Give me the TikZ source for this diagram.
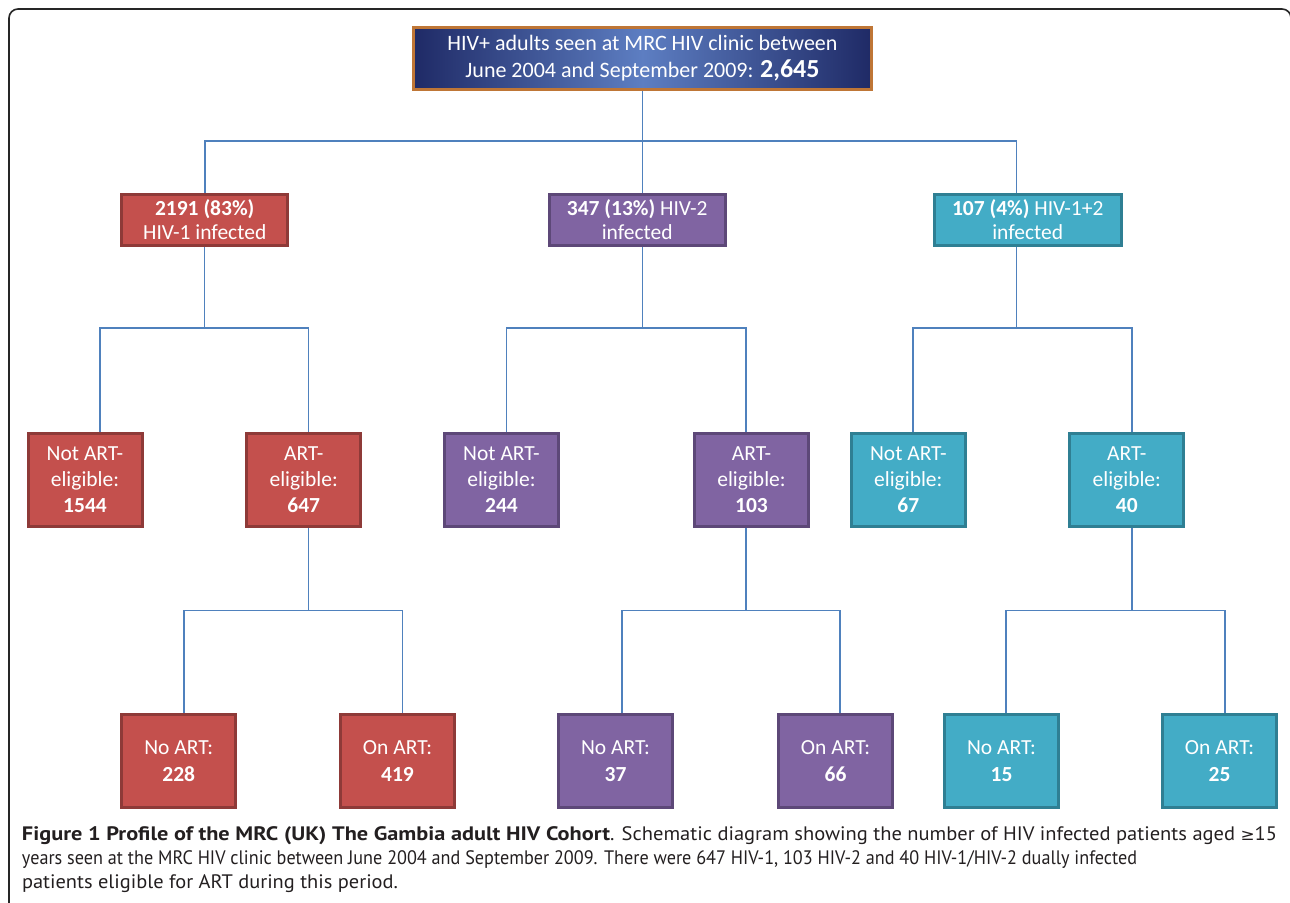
\documentclass[tikz,border=0pt]{standalone}
\usepackage{fontspec}
\usepackage{graphicx}
\setmainfont{Carlito}
\newfontfamily\capfont{PT Sans}
\newfontfamily\symfont{DejaVu Sans}
\usetikzlibrary{backgrounds}
\definecolor{redfill}{HTML}{C4504D}
\definecolor{redline}{HTML}{8E3A38}
\definecolor{purfill}{HTML}{8064A2}
\definecolor{purline}{HTML}{5D4878}
\definecolor{cyanfill}{HTML}{43ACC6}
\definecolor{cyanline}{HTML}{2F7F93}
\definecolor{navy}{HTML}{1F2A66}
\definecolor{lightnavy}{HTML}{5D7EC2}
\definecolor{topline}{HTML}{BF7636}
\definecolor{connc}{HTML}{4F81BD}
\definecolor{captext}{HTML}{231F20}
\begin{document}
\begin{tikzpicture}[x=1pt,y=-1pt,
  box/.style={draw, line width=3pt, inner sep=0pt, outer sep=0pt, align=center, text=white,
    font=\fontsize{21.5}{26}\selectfont},
  redbox/.style={box, fill=redfill, draw=redline},
  purbox/.style={box, fill=purfill, draw=purline},
  cyanbox/.style={box, fill=cyanfill, draw=cyanline},
  lvltwo/.style={minimum height=51pt, font=\fontsize{21.5}{24.5}\selectfont},
  lvlthree/.style={minimum width=114pt, minimum height=92.5pt},
  lvlfour/.style={lvlthree, font=\fontsize{21.5}{27}\selectfont},
  topbox/.style={draw=topline, line width=3pt, left color=navy, right color=navy, middle color=lightnavy,
    inner sep=0pt, outer sep=0pt, align=center, text=white, minimum width=458pt, minimum height=62pt,
    font=\fontsize{22}{27}\selectfont},
  conn/.style={draw=connc, line width=1.3pt},
  captxt/.style={anchor=base west, inner sep=0pt, outer sep=0pt, text=captext,
    font=\capfont\fontsize{19.5}{24}\selectfont}
]
\useasboundingbox (0,0) rectangle (1290,902);
% frame
\draw[line width=1.6pt, draw=black!85, rounded corners=9pt] (9,905) -- (9,9) -- (1291,9) -- (1291,30);

% top
\node[topbox] (top) at (642.5,58.5) {HIV+ adults seen at MRC HIV clinic between\\June 2004 and September 2009: {\fontsize{26}{27}\selectfont\bfseries 2,645}};

% level 2
\node[redbox, lvltwo, minimum width=166pt] (r2) at (204.7,219.5) {\textbf{2191 (83\%)}\\HIV-1 infected};
\node[purbox, lvltwo, minimum width=176pt] (p2) at (637.2,219.5) {\textbf{347 (13\%)} HIV-2\\infected};
\node[cyanbox, lvltwo, minimum width=187pt] (c2) at (1027.7,219.5) {\textbf{107 (4\%)} HIV-1+2\\infected};

% level 3
\node[redbox, lvlthree] (r3a) at (85,480) {Not ART-\\eligible:\\\textbf{1544}};
\node[redbox, lvlthree] (r3b) at (303.7,480) {ART-\\eligible:\\\textbf{647}};
\node[purbox, lvlthree] (p3a) at (501.5,480) {Not ART-\\eligible:\\\textbf{244}};
\node[purbox, lvlthree] (p3b) at (751.5,480) {ART-\\eligible:\\\textbf{103}};
\node[cyanbox, lvlthree] (c3a) at (908.3,480) {Not ART-\\eligible:\\\textbf{67}};
\node[cyanbox, lvlthree] (c3b) at (1126.8,480) {ART-\\eligible:\\\textbf{40}};

% level 4
\node[redbox, lvlfour] (r4a) at (178.7,761) {No ART:\\\textbf{228}};
\node[redbox, lvlfour] (r4b) at (397.5,761) {On ART:\\\textbf{419}};
\node[purbox, lvlfour] (p4a) at (615.5,761) {No ART:\\\textbf{37}};
\node[purbox, lvlfour] (p4b) at (835.5,761) {On ART:\\\textbf{66}};
\node[cyanbox, lvlfour] (c4a) at (1001.5,761) {No ART:\\\textbf{15}};
\node[cyanbox, lvlfour] (c4b) at (1219.5,761) {On ART:\\\textbf{25}};

\begin{pgfonlayer}{background}
% top to level 2
\draw[conn] (top.south) -- ++(0,51.5) coordinate (j0);
\draw[conn] (j0) -| ([xshift=0.3pt]r2.north);
\draw[conn] (j0) -| ([xshift=5pt]p2.north);
\draw[conn] (j0) -| ([xshift=-11pt]c2.north);
% level 2 to level 3
\draw[conn] (r2.south) -- ++(0,83) coordinate (j1);
\draw[conn] (j1) -| ([xshift=15pt]r3a.north);
\draw[conn] (j1) -| ([xshift=5pt]r3b.north);
\draw[conn] ([xshift=5pt]p2.south) -- ++(0,83) coordinate (j2);
\draw[conn] (j2) -| ([xshift=5.2pt]p3a.north);
\draw[conn] (j2) -| ([xshift=-5.5pt]p3b.north);
\draw[conn] ([xshift=-11pt]c2.south) -- ++(0,83) coordinate (j3);
\draw[conn] (j3) -| ([xshift=4.7pt]c3a.north);
\draw[conn] (j3) -| ([xshift=5.2pt]c3b.north);
% level 3 to level 4
\draw[conn] ([xshift=5pt]r3b.south) -- ++(0,84) coordinate (j4);
\draw[conn] (j4) -| ([xshift=5.3pt]r4a.north);
\draw[conn] (j4) -| ([xshift=5.2pt]r4b.north);
\draw[conn] ([xshift=-5.5pt]p3b.south) -- ++(0,84) coordinate (j5);
\draw[conn] (j5) -| ([xshift=6.5pt]p4a.north);
\draw[conn] (j5) -| ([xshift=4.5pt]p4b.north);
\draw[conn] ([xshift=5.2pt]c3b.south) -- ++(0,84) coordinate (j6);
\draw[conn] (j6) -| ([xshift=4.5pt]c4a.north);
\draw[conn] (j6) -| ([xshift=5.5pt]c4b.north);
\end{pgfonlayer}

% caption
\node[captxt] (cap1) at (22,840) {\resizebox{588pt}{\height}{\textbf{Figure 1 Profile of the MRC (UK) The Gambia adult HIV Cohort}}\resizebox{667pt}{\height}{. Schematic diagram showing the number of HIV infected patients aged {\symfont\fontsize{16}{24}\selectfont ≥}15}};
\node[captxt] (cap2) at (22,864) {\resizebox{1115pt}{\height}{years seen at the MRC HIV clinic between June 2004 and September 2009. There were 647 HIV-1, 103 HIV-2 and 40 HIV-1/HIV-2 dually infected}};
\node[captxt] (cap3) at (22,888) {\resizebox{376pt}{\height}{patients eligible for ART during this period.}};
\end{tikzpicture}
\end{document}
